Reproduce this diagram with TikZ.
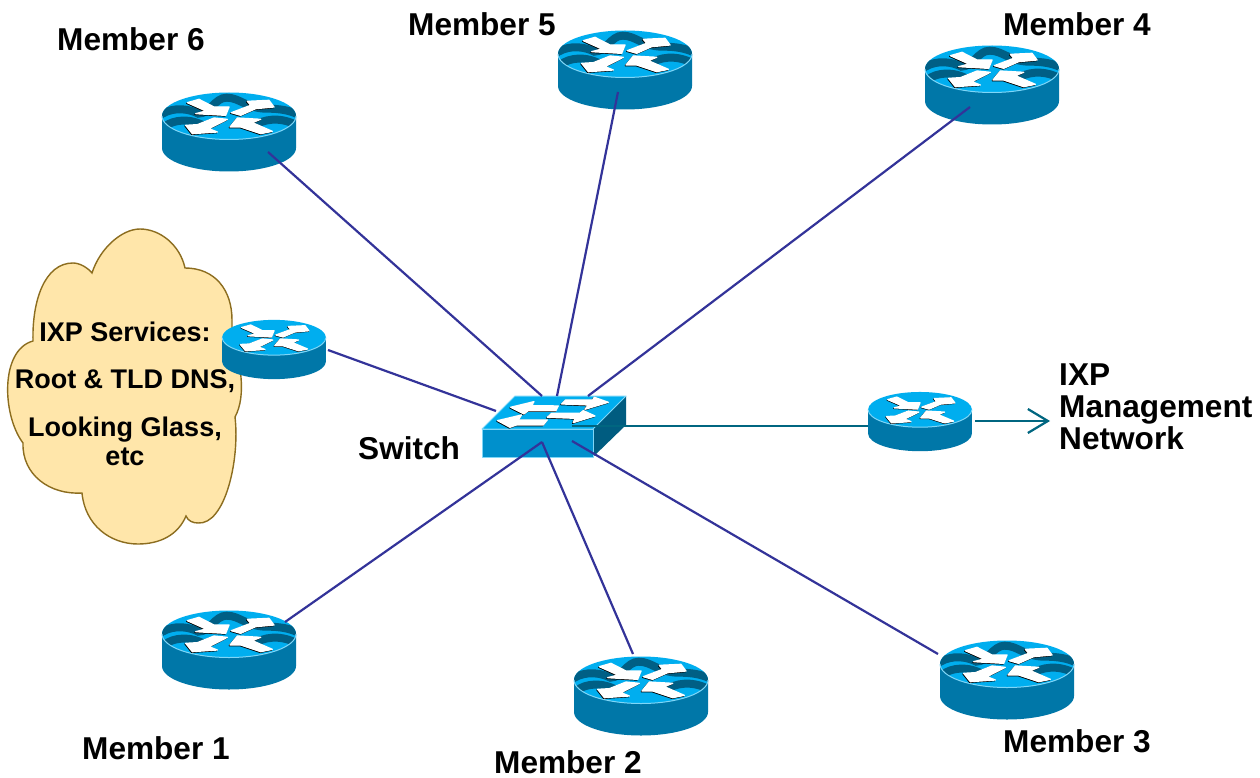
\documentclass[tikz,border=0pt]{standalone}
\usepackage{fontspec}
\setmainfont{Liberation Sans}
\usetikzlibrary{arrows.meta}
\definecolor{rtop}{HTML}{00AEEF}
\definecolor{rside}{HTML}{0077A8}
\definecolor{rwave}{HTML}{005F85}
\definecolor{redge}{HTML}{7FD6F7}
\definecolor{swfront}{HTML}{0090CC}
\definecolor{swside}{HTML}{005C80}
\definecolor{linkblue}{HTML}{333399}
\definecolor{linkteal}{HTML}{006680}
\definecolor{cloudfill}{HTML}{FFE6AA}
\definecolor{cloudedge}{HTML}{8C6D1F}
\newcommand{\arrowshape}[1]{%
  \filldraw[black,line width=1.3pt,line join=round,shift={(-2,2)}] #1 -- cycle;
  \filldraw[white,line width=1.3pt,line join=round] #1 -- cycle;}
\newcommand{\routerbody}{%
  \fill[rside] (-67,0) -- (-67,32) .. controls (-67,45) and (-37,55.5) .. (0,55.5) .. controls (37,55.5) and (67,45) .. (67,32) -- (67,0) -- cycle;
  \fill[rtop] (0,0) ellipse[x radius=67,y radius=23.5];
}
\newcommand{\routeredge}{%
  \draw[redge,line width=1pt] (-67,0) .. controls (-67,13) and (-37,23.5) .. (0,23.5) .. controls (37,23.5) and (67,13) .. (67,0);
}
\newcommand{\routerarrows}{%
  \begin{scope}[x=.3333pt,y=-.3333pt,shift={(-267,-107)}]
    \arrowshape{(142,67) -- (177,57) -- (222,80) -- (267,80) -- (257,105) -- (167,100) -- (198,92)}
    \arrowshape{(322,63) -- (387,60) -- (402,80) -- (347,85) -- (302,105) -- (274,97) -- (332,75)}
    \arrowshape{(137,135) -- (172,133) -- (222,113) -- (262,117) -- (207,145) -- (232,155) -- (157,160)}
    \arrowshape{(270,140) -- (292,113) -- (362,117) -- (337,127) -- (397,153) -- (362,160) -- (302,140)}
  \end{scope}
}
\tikzset{
  bigrouter/.pic={
    \coordinate (-c) at (0,0);
    \routerbody
    \begin{scope}
      \clip (0,0) ellipse[x radius=67,y radius=23.5];
      \begin{scope}[x=.3333pt,y=-.3333pt,shift={(-267,-107)}]
        \draw[rwave,line width=8pt] (55,108) .. controls (85,85) and (130,78) .. (175,100) .. controls (210,100) and (225,52) .. (260,52) .. controls (300,52) and (320,85) .. (380,85) .. controls (420,85) and (450,90) .. (480,105);
        \draw[rwave,line width=8pt] (75,138) .. controls (100,118) and (150,112) .. (195,138);
        \draw[rwave,line width=8pt] (340,138) .. controls (370,115) and (420,110) .. (465,132);
      \end{scope}
    \end{scope}
    \routeredge
    \routerarrows
  },
  smallrouter/.pic={
    \coordinate (-c) at (0,0);
    \routerbody
    \routeredge
    \routerarrows
  },
  link/.style={draw=linkblue,line width=2.2pt},
  mgmt/.style={draw=linkteal,line width=2.2pt},
  lab/.style={font=\fontsize{31.6}{31.6}\selectfont\bfseries,inner sep=0pt,anchor=base west,text=black},
  cloudlab/.style={font=\fontsize{27}{27}\selectfont\bfseries,inner sep=0pt,anchor=base,text=black},
  swedge/.style={draw=redge,line width=1pt,line join=round},
}
\begin{document}
\begin{tikzpicture}[x=1pt,y=-1pt]
\useasboundingbox (0,0) rectangle (1260,778);
\fill[white] (0,0) rectangle (1260,778);
% cloud
\filldraw[fill=cloudfill,draw=cloudedge,line width=1.4pt]
  (92,273) .. controls (100,248) and (122,229) .. (140,229)
  .. controls (160,229) and (180,245) .. (185,268)
  .. controls (215,268) and (232,290) .. (232,320)
  .. controls (232,326) and (232,332) .. (232,337)
  .. controls (240,360) and (247,395) .. (235,417)
  .. controls (240,460) and (225,525) .. (198,523)
  .. controls (193,523) and (188,521) .. (186,516)
  .. controls (178,535) and (160,544) .. (138,544)
  .. controls (110,544) and (85,525) .. (82,493)
  .. controls (50,495) and (22,475) .. (23,443)
  .. controls (2,415) and (0,350) .. (33,341)
  .. controls (32,300) and (45,263) .. (73,263)
  .. controls (80,263) and (88,268) .. (92,273) -- cycle;
\node[cloudlab] (svc1) at (125,341) {IXP Services:};
\node[cloudlab] (svc2) at (125,388) {Root \& TLD DNS,};
\node[cloudlab] (svc3) at (125,436) {Looking Glass,};
\node[cloudlab] (svc4) at (125,465) {etc};
% routers
\pic (m6) at (229,116) {bigrouter};
\pic (m5) at (625,54) {bigrouter};
\pic (m4) at (992,69) {bigrouter};
\pic (m1) at (229,634) {bigrouter};
\pic (m2) at (641,680) {bigrouter};
\pic (m3) at (1007,664) {bigrouter};
\pic[xscale=.775,yscale=.75] (svc) at (274,337.5) {smallrouter};
\pic[xscale=.775,yscale=.75] (mg) at (920,409.6) {smallrouter};
% switch
\coordinate (sw) at (554,427);
\fill[swfront] (482,429) rectangle (593,457);
\fill[rtop] (482,429) -- (515,396) -- (626,396) -- (593,429) -- cycle;
\fill[swside] (593,429) -- (626,396) -- (626,425) -- (593,457) -- cycle;
\draw[swedge] (482,429) -- (515,396) -- (626,396) -- (593,429) -- cycle;
\draw[swedge] (482,429) rectangle (593,457);
\begin{scope}[x=.3333pt,y=-.3333pt,shift={(1380,1110)}]
  \arrowshape{(152,112) -- (222,95) -- (215,107) -- (295,108) -- (288,122) -- (205,122) -- (192,132)}
  \arrowshape{(305,102) -- (317,90) -- (398,90) -- (403,82) -- (445,97) -- (375,118) -- (385,105)}
  \arrowshape{(113,152) -- (185,135) -- (175,150) -- (262,150) -- (250,165) -- (170,165) -- (150,172)}
  \arrowshape{(262,142) -- (275,130) -- (360,130) -- (370,122) -- (405,138) -- (340,158) -- (345,145)}
\end{scope}
% connector end points
\coordinate (p6) at (268,152);
\coordinate (p5) at (618,92);
\coordinate (p4) at (970,107);
\coordinate (p1) at (285,622);
\coordinate (p2) at (633,654);
\coordinate (p3) at (938,654);
\coordinate (psvc) at (328,350);
\coordinate (pmgin) at (868,426);
\coordinate (pmgout) at (975,421);
\coordinate (mgtip) at (1050,421);
\coordinate (s6) at (542,396);
\coordinate (s5) at (557,396);
\coordinate (s4) at (588,396);
\coordinate (ssvc) at (496,411);
\coordinate (s1) at (542,442);
\coordinate (s3) at (572,441);
\coordinate (sm) at (572,426);
% connectors
\draw[link] (p6) -- (s6);
\draw[link] (p5) -- (s5);
\draw[link] (p4) -- (s4);
\draw[link] (psvc) -- (ssvc);
\draw[link] (p1) -- (s1);
\draw[link] (p2) -- (s1);
\draw[link] (p3) -- (s3);
\draw[mgmt] (sm) -- (pmgin);
\draw[mgmt,-{Straight Barb[length=20pt,width=24pt]}] (pmgout) -- (mgtip);
% labels
\node[lab] (l6) at (57,51) {Member 6};
\node[lab] (l5) at (408,36) {Member 5};
\node[lab] (l4) at (1003,36) {Member 4};
\node[lab] (l1) at (82,759) {Member 1};
\node[lab] (l2) at (494,773) {Member 2};
\node[lab] (l3) at (1003,752) {Member 3};
\node[lab] (lsw) at (358,459) {Switch};
\node[lab] (li1) at (1059,385) {IXP};
\node[lab] (li2) at (1059,417) {Management};
\node[lab] (li3) at (1059,449) {Network};
\end{tikzpicture}
\end{document}
